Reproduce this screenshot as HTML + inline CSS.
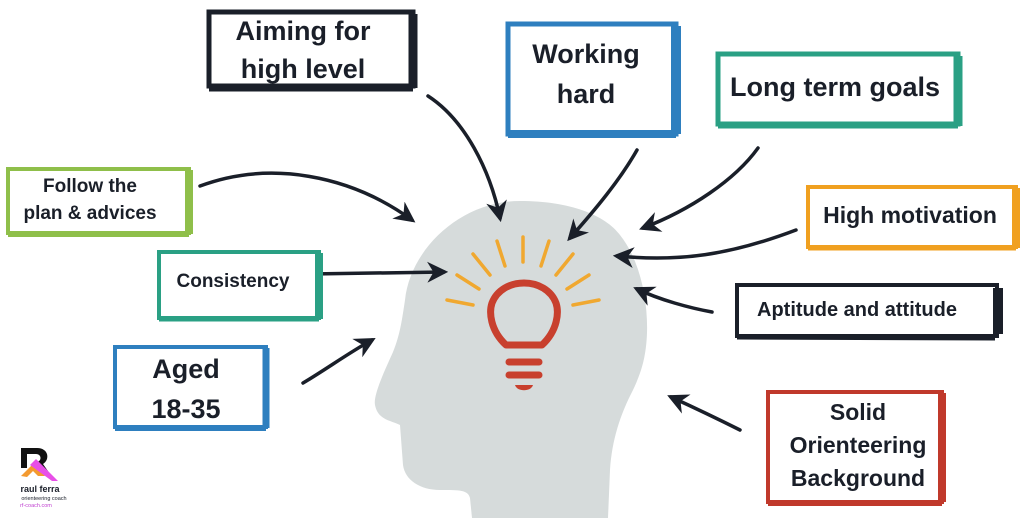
<!DOCTYPE html>
<html><head><meta charset="utf-8"><style>
html,body{margin:0;padding:0;background:#fff;}
svg{display:block;}
text{font-family:"Liberation Sans",sans-serif;font-weight:bold;fill:#1a1f29;text-anchor:middle;}
</style></head><body>
<svg width="1024" height="518" viewBox="0 0 1024 518" xmlns="http://www.w3.org/2000/svg">
<defs>
<marker id="ah" viewBox="0 0 10 10" refX="8" refY="5" markerWidth="6" markerHeight="6" orient="auto-start-reverse">
<path d="M0,0 L10,5 L0,10 L3,5 Z" fill="#1a1f29"/>
</marker>
</defs>
<path d="M520,201 C570,201 605,215 620,235 C640,260 648,300 647,333 C646,360 640,375 633,390 C620,415 612,440 610,470 L608,518 L472,518 L470,498 C468,490 460,490 440,490 C420,490 405,480 403,465 L400,425 C390,420 378,420 375,405 C373,395 385,370 393,352 C400,335 402,320 405,300 C410,250 460,201 520,201 Z" fill="#d6dbdb"/>
<g stroke="#f0a830" stroke-width="3.5" stroke-linecap="round">
<line x1="523" y1="237" x2="523" y2="262"/>
<line x1="497" y1="241" x2="505" y2="266"/>
<line x1="549" y1="241" x2="541" y2="266"/>
<line x1="473" y1="254" x2="490" y2="275"/>
<line x1="573" y1="254" x2="556" y2="275"/>
<line x1="457" y1="275" x2="479" y2="289"/>
<line x1="589" y1="275" x2="567" y2="289"/>
<line x1="447" y1="300" x2="473" y2="305"/>
<line x1="599" y1="300" x2="573" y2="305"/>
</g>
<path d="M506,345 C490,330 489,312 492,303 C497,290 510,283 524,283 C538,283 551,290 556,303 C559,312 558,330 542,345 Z" fill="none" stroke="#c8402e" stroke-width="7" stroke-linejoin="round"/>
<g stroke="#c8402e" stroke-width="7" stroke-linecap="round">
<line x1="509" y1="362" x2="539" y2="362"/>
<line x1="509" y1="375" x2="539" y2="375"/>
</g>
<path d="M515,385 L533,385 C531,392 517,392 515,385 Z" fill="#c8402e"/>
<g fill="none" stroke="#1a1f29" stroke-width="3.5" stroke-linecap="round" marker-end="url(#ah)">
<path d="M428,96 C465,120 490,170 500,218"/>
<path d="M637,150 C620,180 595,210 570,238"/>
<path d="M758,148 C735,180 690,210 643,228"/>
<path d="M200,186 C270,160 350,175 412,220"/>
<path d="M796,230 C730,255 680,262 617,256"/>
<path d="M310,274 L444,272"/>
<path d="M712,312 C690,308 660,300 637,289"/>
<path d="M303,383 C325,370 350,352 372,340"/>
<path d="M740,430 C720,420 695,408 671,397"/>
</g>
<g fill="#fff">
<rect x="209" y="12" width="204" height="74" stroke="#1a1f29" stroke-width="5"/>
<line x1="413" y1="14" x2="413" y2="88" stroke="#1a1f29" stroke-width="9"/>
<line x1="209" y1="88" x2="413" y2="88" stroke="#1a1f29" stroke-width="7"/>
<text x="303" y="40" font-size="27">Aiming for</text>
<text x="303" y="78" font-size="27">high level</text>

<rect x="508" y="24" width="168" height="110" stroke="#2e7fbf" stroke-width="5"/>
<line x1="676" y1="26" x2="676" y2="134" stroke="#2e7fbf" stroke-width="10"/>
<line x1="508" y1="134" x2="676" y2="134" stroke="#2e7fbf" stroke-width="8"/>
<text x="586" y="63" font-size="27">Working</text>
<text x="586" y="103" font-size="27">hard</text>

<rect x="718" y="54" width="240" height="70" stroke="#2aa084" stroke-width="5"/>
<line x1="958" y1="56" x2="958" y2="126" stroke="#2aa084" stroke-width="9"/>
<line x1="718" y1="125" x2="958" y2="125" stroke="#2aa084" stroke-width="7"/>
<text x="835" y="96" font-size="27">Long term goals</text>

<rect x="8" y="169" width="181" height="64" stroke="#8fbf4a" stroke-width="4"/>
<line x1="189" y1="170" x2="189" y2="234" stroke="#8fbf4a" stroke-width="8"/>
<line x1="8" y1="234" x2="189" y2="234" stroke="#8fbf4a" stroke-width="6"/>
<text x="90" y="192" font-size="19">Follow the</text>
<text x="90" y="219" font-size="19">plan &amp; advices</text>

<rect x="808" y="187" width="208" height="60" stroke="#f0a020" stroke-width="4"/>
<line x1="1016" y1="188" x2="1016" y2="248" stroke="#f0a020" stroke-width="8"/>
<line x1="808" y1="248" x2="1016" y2="248" stroke="#f0a020" stroke-width="5"/>
<text x="910" y="223" font-size="23">High motivation</text>

<rect x="159" y="252" width="160" height="66" stroke="#2aa084" stroke-width="4"/>
<line x1="319" y1="253" x2="319" y2="319" stroke="#2aa084" stroke-width="8"/>
<line x1="159" y1="319" x2="319" y2="319" stroke="#2aa084" stroke-width="5"/>
<text x="233" y="287" font-size="19">Consistency</text>

<rect x="737" y="285" width="260" height="51" stroke="#1a1f29" stroke-width="4"/>
<line x1="998" y1="288" x2="998" y2="334" stroke="#1a1f29" stroke-width="10"/>
<line x1="737" y1="337" x2="995" y2="338" stroke="#1a1f29" stroke-width="5"/>
<text x="857" y="316" font-size="20">Aptitude and attitude</text>

<rect x="115" y="347" width="151" height="80" stroke="#2e7fbf" stroke-width="4"/>
<line x1="266" y1="348" x2="266" y2="428" stroke="#2e7fbf" stroke-width="7"/>
<line x1="115" y1="428" x2="266" y2="428" stroke="#2e7fbf" stroke-width="6"/>
<text x="186" y="378" font-size="27">Aged</text>
<text x="186" y="418" font-size="27">18-35</text>

<rect x="768" y="392" width="174" height="110" stroke="#c0392b" stroke-width="4"/>
<line x1="942" y1="393" x2="942" y2="502" stroke="#c0392b" stroke-width="8"/>
<line x1="768" y1="503" x2="942" y2="503" stroke="#c0392b" stroke-width="6"/>
<text x="858" y="420" font-size="23">Solid</text>
<text x="858" y="453" font-size="23">Orienteering</text>
<text x="858" y="486" font-size="23">Background</text>
</g>
<path d="M21,448 L21,468 L27,468 L27,454 L36,454 C42,454 42,462 36,462 L33,462 L42,474 L50,474 L43,464 C50,460 49,448 37,448 Z" fill="#111"/>
<path d="M21,476 L33,464 L45,476 L38,476 L33,471 L27,477 Z" fill="#f39a30"/>
<path d="M30,465 L36,459 L58,481 L52,481 Z" fill="#e84fe8"/>
<text x="40" y="492" font-size="9">raul ferra</text>
<text x="44" y="500" font-size="5.5" style="font-weight:normal">orienteering coach</text>
<text x="36" y="507" font-size="5.5" style="font-weight:normal;fill:#c040d0">rf-coach.com</text>
</svg>
</body></html>
